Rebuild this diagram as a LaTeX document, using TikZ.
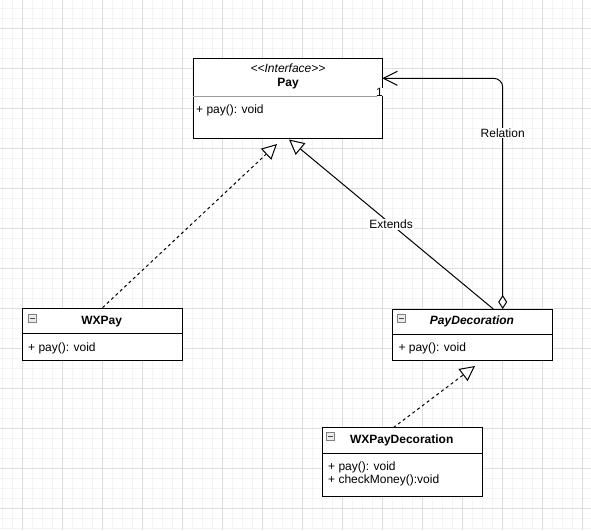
\documentclass[tikz,border=0pt]{standalone}
\usepackage{fontspec}
\setmainfont{Liberation Sans}
\usetikzlibrary{arrows.meta}
\definecolor{gridminor}{HTML}{F4F4F4}
\definecolor{gridmajor}{HTML}{DDDDDD}
\definecolor{sepgray}{HTML}{9A9A9A}
\tikzset{
  umlbox/.style={draw=black, line width=1pt, rectangle, inner sep=0pt, fill=white},
  txt/.style={inner sep=0pt, font=\fontsize{12}{14}\selectfont},
  lbl/.style={inner sep=1pt, fill=white, font=\fontsize{12}{14}\selectfont},
  umlicon/.style={draw=gray, fill=gray!15, line width=0.7pt, minimum size=8pt, inner sep=0pt, rectangle},
  conn/.style={line width=1pt, black},
  dashconn/.style={conn, dash pattern=on 3pt off 3pt},
  realize/.style={-{Triangle[open, length=15pt, width=15pt, fill=white]}},
}
\begin{document}
\begin{tikzpicture}[x=1pt, y=-1pt]
\useasboundingbox (0,0) rectangle (591,530);
\fill[white] (0,0) rectangle (591,530);
% grid
\foreach \gx in {2,12,...,590} \draw[gridminor, line width=1pt] (\gx,0) -- (\gx,530);
\foreach \gy in {8,18,...,528} \draw[gridminor, line width=1pt] (0,\gy) -- (591,\gy);
\foreach \gx in {22,62,...,590} \draw[gridmajor, line width=1pt] (\gx,0) -- (\gx,530);
\foreach \gy in {28,68,...,528} \draw[gridmajor, line width=1pt] (0,\gy) -- (591,\gy);

% boxes
\node[umlbox, minimum width=189pt, minimum height=80pt] (pay) at (287.5,98) {};
\node[umlbox, minimum width=160pt, minimum height=52pt] (wxpay) at (102.5,334.2) {};
\node[umlbox, minimum width=160pt, minimum height=51pt] (payd) at (472.5,334.5) {};
\node[umlbox, minimum width=160pt, minimum height=69pt] (wxpayd) at (402.5,462.2) {};

% Pay contents
\draw[sepgray, line width=1pt] (pay.west |- 0,96.7) -- (376.7,96.7);
\node[txt, font=\fontsize{12}{14}\selectfont\itshape] (stereo) at (288,68.3) {{<}{<}Interface{>}{>}};
\node[txt, font=\fontsize{12}{14}\selectfont\bfseries] (payname) at (288,83.3) {Pay};
\node[txt, anchor=west] (paym) at (196,110.7) {+ pay(): void};
\node[txt, fill=white] (mult) at (379.5,92) {1};

% WXPay contents
\draw[black, line width=1pt] (wxpay.west |- 0,333.7) -- (wxpay.east |- 0,333.7);
\node[umlicon] (ic1) at (32.7,318.3) {};
\draw[black!70, line width=0.8pt] ([xshift=-2.5pt]ic1.center) -- ([xshift=2.5pt]ic1.center);
\node[txt, font=\fontsize{12}{14}\selectfont\bfseries] (wxpayname) at (101.7,321.7) {WXPay};
\node[txt, anchor=west] (wxpaym) at (28,348) {+ pay(): void};

% PayDecoration contents
\draw[black, line width=1pt] (payd.west |- 0,334.3) -- (payd.east |- 0,334.3);
\node[umlicon] (ic2) at (401.7,318.3) {};
\draw[black!70, line width=0.8pt] ([xshift=-2.5pt]ic2.center) -- ([xshift=2.5pt]ic2.center);
\node[txt, font=\fontsize{12}{14}\selectfont\bfseries\itshape] (paydname) at (472,321.7) {PayDecoration};
\node[txt, anchor=west] (paydm) at (398.3,348.3) {+ pay(): void};

% WXPayDecoration contents
\draw[black, line width=1pt] (wxpayd.west |- 0,453.7) -- (wxpayd.east |- 0,453.7);
\node[umlicon] (ic3) at (330.7,436.7) {};
\draw[black!70, line width=0.8pt] ([xshift=-2.5pt]ic3.center) -- ([xshift=2.5pt]ic3.center);
\node[txt, font=\fontsize{12}{14}\selectfont\bfseries] (wxpaydname) at (401.7,440.7) {WXPayDecoration};
\node[txt, anchor=west] (wxpaydm1) at (328,467.3) {+ pay(): void};
\node[txt, anchor=west] (wxpaydm2) at (328,480) {+ checkMoney():void};

% connector endpoints
\coordinate (tipA) at (277,144);
\coordinate (tipB) at (289,139.5);
\coordinate (startB) at (493.3,309);
\coordinate (startR) at (502.7,309);
\coordinate (tipR) at (382.3,78.3);
\coordinate (tipC) at (475,366);
\coordinate (startC) at (393.3,427.7);

% connectors
\draw[dashconn, realize] (wxpay.north) -- (tipA);
\draw[conn, realize] (startB) -- node[lbl, pos=0.5] (extl) {Extends} (tipB);
\draw[conn, rounded corners=9pt, {Diamond[open, length=14pt, width=9pt, fill=white]}-{Straight Barb[length=14pt, width=14pt]}]
  (startR) -- (startR |- tipR) -- (tipR);
\node[lbl] (rell) at (502.7,133) {Relation};
\draw[dashconn, realize] (startC) -- (tipC);
\end{tikzpicture}
\end{document}
